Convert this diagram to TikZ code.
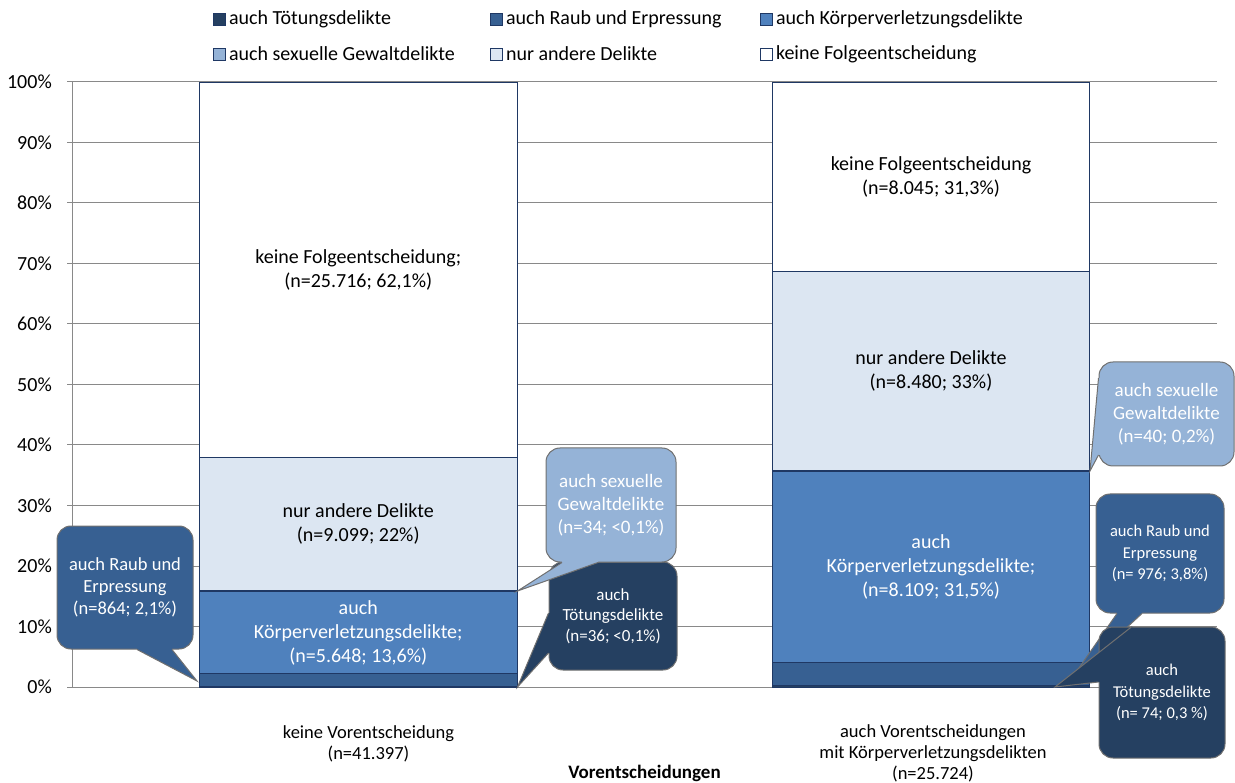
\documentclass[tikz,border=0pt]{standalone}
\usepackage{fontspec}
\setmainfont{Carlito}
\usepackage{tikz}
\usetikzlibrary{calc, positioning}

\definecolor{toetung}{HTML}{254061}
\definecolor{raub}{HTML}{376092}
\definecolor{koerper}{HTML}{4F81BD}
\definecolor{sexuell}{HTML}{95B3D7}
\definecolor{andere}{HTML}{DCE6F2}
\definecolor{rahmen}{HTML}{1F3864}
\definecolor{gitter}{HTML}{898989}
\definecolor{randgrau}{HTML}{707070}

\tikzset{
  segment/.style={draw=rahmen, line width=0.8pt},
  gridline/.style={draw=gitter, line width=1pt},
  barlabel/.style={align=center, inner sep=0pt, font=\fontsize{20}{24}\selectfont},
  ticklabel/.style={anchor=east, inner sep=0pt, font=\fontsize{20}{24}\selectfont},
  catlabel/.style={align=center, inner sep=0pt, font=\fontsize{18.5}{21}\selectfont},
  legbox/.style={draw=rahmen, line width=0.7pt, minimum size=12pt, inner sep=0pt},
  legtext/.style={inner sep=0pt, font=\fontsize{20}{24}\selectfont},
  bubble/.style={draw=randgrau, line width=1pt, rounded corners=14pt, text=white, align=center, inner sep=0pt},
  wedgeline/.style={draw=randgrau, line width=1pt}
}

\begin{document}
\begin{tikzpicture}[x=1pt, y=-1pt]

  \useasboundingbox (0,0) rectangle (1235,783);

  \node[legbox, fill=toetung] (qToetung) at (219.5,19) {};
  \node[legtext, right=3pt of qToetung] (lToetung) {auch Tötungsdelikte};
  \node[legbox, fill=raub] (qRaub) at (496.5,19) {};
  \node[legtext, right=3pt of qRaub] (lRaub) {auch Raub und Erpressung};
  \node[legbox, fill=koerper] (qKoerper) at (766.5,19) {};
  \node[legtext, right=3pt of qKoerper] (lKoerper) {auch Körperverletzungsdelikte};
  \node[legbox, fill=sexuell] (qSexuell) at (219.5,54) {};
  \node[legtext, right=3pt of qSexuell] (lSexuell) {auch sexuelle Gewaltdelikte};
  \node[legbox, fill=andere] (qAndere) at (496.5,54) {};
  \node[legtext, right=3pt of qAndere] (lAndere) {nur andere Delikte};
  \node[legbox, fill=white] (qKeine) at (766.5,54) {};
  \node[legtext, right=3pt of qKeine] (lKeine) {keine Folgeentscheidung};

  \begin{scope}[shift={(0,687)}, y=6.05pt]
    \foreach \p in {0,10,...,100} {
      \draw[gridline] (67,\p) -- (1217,\p);
      \node[ticklabel] (tick\p) at (52,\p) {\p\%};
    }
    \draw[gridline] (72,0) -- (72,100);

    \draw[segment, fill=toetung] (199.5,0) rectangle (517,0.09);
    \draw[segment, fill=raub] (199.5,0.09) rectangle (517,2.18);
    \draw[segment, fill=koerper] (199.5,2.18) rectangle (517,15.82);
    \draw[segment, fill=sexuell] (199.5,15.82) rectangle (517,15.9);
    \draw[segment, fill=andere] (199.5,15.9) rectangle (517,37.88);
    \draw[segment, fill=white] (199.5,37.88) rectangle (517,100);

    \draw[segment, fill=toetung] (772.5,0) rectangle (1089.5,0.29);
    \draw[segment, fill=raub] (772.5,0.29) rectangle (1089.5,4.08);
    \draw[segment, fill=koerper] (772.5,4.08) rectangle (1089.5,35.6);
    \draw[segment, fill=sexuell] (772.5,35.6) rectangle (1089.5,35.76);
    \draw[segment, fill=andere] (772.5,35.76) rectangle (1089.5,68.73);
    \draw[segment, fill=white] (772.5,68.73) rectangle (1089.5,100);

    \node[barlabel] (keineA) at (358.25,68.94) {keine Folgeentscheidung;\\(n=25.716; 62,1\%)};
    \node[barlabel] (andereA) at (358.25,26.89) {nur andere Delikte\\(n=9.099; 22\%)};
    \node[barlabel, text=white] (koerperA) at (358.25,9) {auch\\Körperverletzungsdelikte;\\(n=5.648; 13,6\%)};
    \node[barlabel] (keineB) at (931,84.37) {keine Folgeentscheidung\\(n=8.045; 31,3\%)};
    \node[barlabel] (andereB) at (931,52.25) {nur andere Delikte\\(n=8.480; 33\%)};
    \node[barlabel, text=white] (koerperB) at (931,19.84) {auch\\Körperverletzungsdelikte;\\(n=8.109; 31,5\%)};
  \end{scope}

  \node[bubble, fill=raub, minimum width=136pt, minimum height=123pt, font=\fontsize{18.5}{22}\selectfont] (bRaubA) at (125,587.5) {auch Raub und\\Erpressung\\(n=864; 2,1\%)};
  \coordinate (tRaubA) at (197,681);
  \fill[raub] (tRaubA) -- ([xshift=12pt]bRaubA.south) -- ([xshift=12pt, yshift=2pt]bRaubA.south) -- ([xshift=47pt, yshift=2pt]bRaubA.south) -- ([xshift=47pt]bRaubA.south) -- cycle;
  \draw[wedgeline] ([xshift=12pt]bRaubA.south) -- (tRaubA) -- ([xshift=47pt]bRaubA.south);

  \node[bubble, fill=toetung, minimum width=128pt, minimum height=108pt, font=\fontsize{17}{20.5}\selectfont] (bToetungA) at (613,616) {auch\\Tötungsdelikte\\(n=36; <0,1\%)};
  \coordinate (tToetungA) at (517.5,687);
  \fill[toetung] (tToetungA) -- ([yshift=3pt]bToetungA.west) -- ([yshift=3pt, xshift=2pt]bToetungA.west) -- ([yshift=-37pt, xshift=2pt]bToetungA.west) -- ([yshift=-37pt]bToetungA.west) -- cycle;
  \draw[wedgeline] ([yshift=3pt]bToetungA.west) -- (tToetungA) -- ([yshift=-37pt]bToetungA.west);

  \node[bubble, fill=sexuell, minimum width=130pt, minimum height=114pt, font=\fontsize{19}{23}\selectfont] (bSexuellA) at (611,505) {auch sexuelle\\Gewaltdelikte\\(n=34; <0,1\%)};
  \coordinate (tSexuellA) at (517.5,591);
  \fill[sexuell] (tSexuellA) -- ([xshift=-49pt]bSexuellA.south) -- ([xshift=-49pt, yshift=2pt]bSexuellA.south) -- ([xshift=-13pt, yshift=2pt]bSexuellA.south) -- ([xshift=-13pt]bSexuellA.south) -- cycle;
  \draw[wedgeline] ([xshift=-49pt]bSexuellA.south) -- (tSexuellA) -- ([xshift=-13pt]bSexuellA.south);

  \node[bubble, fill=sexuell, minimum width=135pt, minimum height=104pt, font=\fontsize{19}{23}\selectfont] (bSexuellB) at (1166.5,414) {auch sexuelle\\Gewaltdelikte\\(n=40; 0,2\%)};
  \coordinate (tSexuellB) at (1090,471);
  \fill[sexuell] (tSexuellB) -- ([yshift=36pt]bSexuellB.west) -- ([yshift=36pt, xshift=2pt]bSexuellB.west) -- ([yshift=-41pt, xshift=2pt]bSexuellB.west) -- ([yshift=-41pt]bSexuellB.west) -- cycle;
  \draw[wedgeline] ([yshift=36pt]bSexuellB.west) -- (tSexuellB) -- ([yshift=-41pt]bSexuellB.west);

  \node[bubble, fill=raub, minimum width=128pt, minimum height=119pt, font=\fontsize{16.5}{21.5}\selectfont] (bRaubB) at (1160,553.5) {auch Raub und\\Erpressung\\(n= 976; 3,8\%)};
  \coordinate (tRaubB) at (1072,678);
  \fill[raub] (tRaubB) -- ([xshift=-43pt]bRaubB.south) -- ([xshift=-43pt, yshift=2pt]bRaubB.south) -- ([xshift=-18pt, yshift=2pt]bRaubB.south) -- ([xshift=-18pt]bRaubB.south) -- cycle;
  \draw[wedgeline] ([xshift=-43pt]bRaubB.south) -- (tRaubB) -- ([xshift=-18pt]bRaubB.south);

  \node[bubble, fill=toetung, minimum width=126pt, minimum height=131pt, font=\fontsize{16.5}{21.5}\selectfont] (bToetungB) at (1162,692.5) {auch\\Tötungsdelikte\\(n= 74; 0,3 \%)};
  \coordinate (tToetungB) at (1055,687);
  \fill[toetung] (tToetungB) -- ([xshift=-30pt]bToetungB.north) -- ([xshift=-30pt, yshift=-2pt]bToetungB.north) -- ([yshift=10.5pt, xshift=2pt]bToetungB.west) -- ([yshift=10.5pt]bToetungB.west) -- cycle;
  \draw[wedgeline] ([xshift=-30pt]bToetungB.north) -- (tToetungB) -- ([yshift=10.5pt]bToetungB.west);

  \node[catlabel] (katKeine) at (368.5,744) {keine Vorentscheidung\\(n=41.397)};
  \node[catlabel] (katAuch) at (933,753) {auch Vorentscheidungen\\mit Körperverletzungsdelikten\\(n=25.724)};
  \node[catlabel, font=\bfseries\fontsize{19}{21}\selectfont] (achsentitel) at (644.5,773) {Vorentscheidungen};

\end{tikzpicture}
\end{document}
